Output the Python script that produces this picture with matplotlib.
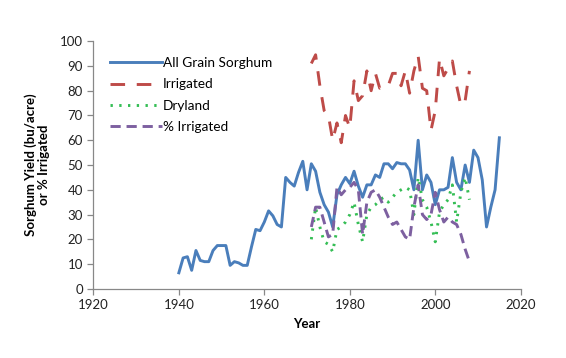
import matplotlib
matplotlib.use("Agg")
import matplotlib.pyplot as plt
import numpy as np

# All grain sorghum, 1940-2015
all_years = list(range(1940, 2016))
all_yield = [6.5, 12.5, 13, 7.5, 15.5, 11.5, 11, 11, 15.5, 17.5,
             17.5, 17.5, 9.5, 11, 10.5, 9.5, 9.5, 17, 24, 23.5,
             27, 31.5, 29.5, 26, 25, 45, 43, 41.5, 47, 51.5,
             40, 50.5, 47.5, 39, 34, 31, 25, 38, 42, 45,
             42.5, 47.5, 41.5, 37, 42, 42, 46, 45, 50.5, 50.5,
             48.5, 51, 50.5, 50.5, 48, 40, 60, 40, 46, 43,
             34, 40, 40, 41, 53, 43, 40, 50, 43, 56,
             53, 44, 25, 33, 40, 61]

# Irrigated / dryland split, 1971-2008
split_years = list(range(1971, 2009))
irrigated = [91, 94.5, 82, 72, 70, 60, 67, 59, 70, 65,
             84, 76, 78, 88, 80, 87, 81, 82, 82, 87,
             87, 82, 88, 79, 88, 94, 81, 80, 64, 72,
             93, 86, 89, 92, 82, 74, 76, 88]
dryland = [20, 33, 25, 19, 18, 15, 24, 25, 27, 30,
           35, 26, 19, 30, 33, 34, 36, 37, 35, 37,
           39, 40, 41, 40, 30, 45, 36, 33, 27, 19,
           31, 34, 36, 42, 27, 39, 45, 36]
pct_irrigated = [25, 33, 33, 27, 21, 22, 41, 38, 40, 41,
                 43, 40, 22, 35, 39, 40, 37, 33, 29, 26,
                 27, 24, 21, 20, 33, 42, 30, 28, 30, 39,
                 32, 27, 29, 27, 26, 22, 16, 11]

fig = plt.figure(figsize=(5.66, 3.58), dpi=100)
ax = fig.add_axes([0.165, 0.193, 0.755, 0.692])

font = "Lato"

ax.plot(all_years, all_yield, color="#4A7EBB", lw=2.1, label="All Grain Sorghum")
ax.plot(split_years, irrigated, color="#BE4B48", lw=2.1, dashes=(5, 4), label="Irrigated")
ax.plot(split_years, dryland, color="#35BE55", lw=2.1, dashes=(0.8, 2.2), label="Dryland")
ax.plot(split_years, pct_irrigated, color="#7D60A0", lw=2.1, dashes=(3.5, 2), label="% Irrigated")

ax.set_xlim(1920, 2020)
ax.set_ylim(0, 100)
ax.set_xticks(range(1920, 2021, 20))
ax.set_yticks(range(0, 101, 10))

for side in ["top", "right"]:
    ax.spines[side].set_visible(False)
for side in ["left", "bottom"]:
    ax.spines[side].set_color("#888888")
    ax.spines[side].set_linewidth(0.9)
ax.tick_params(axis="both", colors="#888888", length=4, width=0.9, direction="out",
               labelcolor="#222222", labelsize=9.5)
for lab in ax.get_xticklabels() + ax.get_yticklabels():
    lab.set_family(font)

ax.set_xlabel("Year", fontsize=9.5, fontweight="bold", family=font, labelpad=5)
ax.set_ylabel("Sorghum Yield (bu/acre)\nor % Irrigated", fontsize=9.5, fontweight="bold",
              family=font, labelpad=7, linespacing=1.15)

leg = ax.legend(loc="upper left", bbox_to_anchor=(0.01, 0.985), frameon=False,
                handlelength=3.8, handletextpad=0.1, labelspacing=0.68,
                prop={"family": font, "size": 9.8})

fig.savefig("out.png", dpi=100)
